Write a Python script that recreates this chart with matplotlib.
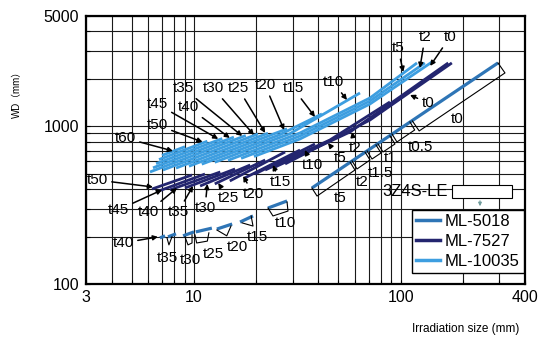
import matplotlib
matplotlib.use('Agg')
import matplotlib.pyplot as plt
from matplotlib.ticker import NullFormatter, LogLocator, FixedLocator
from matplotlib.patches import Rectangle, FancyArrowPatch
from matplotlib.lines import Line2D

plt.rcParams['font.family'] = ['Liberation Sans', 'DejaVu Sans', 'Noto Sans CJK JP']

# ---------------- data (irradiation size mm, WD mm) ----------------
series_names = ['ML-5018', 'ML-7527', 'ML-10035']
series_colors = ['#2E75B6', '#23256F', '#3D9EE0']

# ML-10035 (light blue)
ml10035_labels = ['t60', 't50', 't45', 't40', 't35', 't30', 't25', 't20', 't15', 't10', 't5', 't2', 't0']
ml10035_size = [[7.00, 9.04], [6.77, 11.6], [6.55, 13.7], [6.33, 15.6], [6.12, 17.8], [7.07, 20.4],
                [8.18, 22.8], [9.45, 28.2], [10.9, 26.1, 41.6], [12.6, 29.1, 63.6],
                [14.6, 32.6, 71.1, 120], [16.9, 32.6, 71.1, 131], [19.5, 32.6, 71.1, 142]]
ml10035_wd = [[654, 742], [615, 804], [579, 836], [545, 854], [513, 874], [528, 894],
              [543, 904], [558, 963], [575, 886, 1197], [591, 897, 1626],
              [608, 907, 1512, 2520], [626, 868, 1447, 2520], [643, 831, 1385, 2557]]
ml10035_tip_size = [7.91, 11.0, 13.1, 14.9, 17.1, 19.5, 22.1, 27.3, 38.5, 55.0, 103, 124, 139]
ml10035_tip_wd = [697, 795, 831, 843, 868, 881, 907, 947, 1146, 1468, 2210, 2343, 2412]

# ML-7527 (navy)
ml7527_labels = ['t50', 't45', 't40', 't35', 't30', 't25', 't20', 't15', 't10', 't5', 't2', 't0']
ml7527_size = [[6.26, 9.78], [6.55, 11.3], [7.65, 13.4], [9.04, 15.8], [10.7, 18.7], [12.6, 22.1],
               [14.9, 27.6], [17.6, 32.6], [19.7, 38.5], [22.1, 45.5, 88.8],
               [24.7, 56.9, 170], [27.6, 71.1, 177]]
ml7527_wd = [[400, 491], [383, 498], [395, 513], [406, 536], [418, 568], [431, 611],
             [450, 687], [470, 707], [498, 772], [528, 819, 1426],
             [552, 920, 2520], [577, 1096, 2520]]
ml7527_tip_size = [6.33, 7.00, 8.27, 9.89, 11.6, 13.1, 17.3, 24.1, 34.4, 44.5, 58.2, 111]
ml7527_tip_wd = [412, 395, 406, 418, 431, 437, 484, 568, 707, 784, 920, 1579]

# ML-5018 (medium blue)
ml5018_size = [[6.84, 7.24], [7.48, 8.18], [8.85, 10.0], [10.2, 12.2], [12.9, 15.3],
               [16.7, 19.3], [22.8, 28.2], [37.2, 296]]
ml5018_wd = [[196, 202], [199, 208], [202, 214], [214, 226], [223, 240], [247, 270],
             [303, 336], [406, 2520]]

# thickness brackets drawn under the ML-5018 segments
bracket_size = [[7.40, 7.56, 7.82], [9.04, 9.35, 9.78, 9.78], [10.1, 10.3, 11.6, 11.8],
                [12.9, 14.4, 15.1], [17.1, 19.3, 18.9], [22.8, 24.1, 28.5, 28.2],
                [296, 320, 123, 114], [111, 117, 96.0, 90.8], [88.8, 93.9, 82.2, 77.7],
                [76.0, 80.4, 72.7, 68.8], [67.2, 71.1, 61.5, 58.2], [56.9, 60.1, 39.4, 37.2]]
bracket_wd = [[196, 177, 199], [199, 177, 182, 205], [205, 182, 187, 211],
              [220, 202, 233], [244, 233, 270], [303, 270, 290, 331],
              [2520, 2178, 934, 1080], [1065, 947, 795, 894], [868, 772, 687, 772],
              [761, 677, 620, 697], [687, 611, 536, 603], [594, 528, 361, 406]]

ml5018_text = ['t40', 't35', 't30', 't25', 't20', 't15', 't10', 't5', 't2', 't1.5', 't1', 't0.5', 't0']
ml5018_tip_size = [6.69]
ml5018_tip_wd = [199]

# label layout (pixel positions of label text)
ml10035_text_px = [(125, 138), (157, 125), (157, 104), (188, 107), (183, 88), (213, 88), (238, 88),
                   (265, 85), (293, 88), (333, 82), (398, 48), (425, 37), (450, 37)]
ml7527_text_px = [(97, 180), (118, 210), (148, 212), (178, 212), (205, 208), (228, 198), (253, 194),
                  (280, 182), (312, 165), (340, 158), (355, 148), (428, 103)]
ml5018_text_px = [(123, 243), (167, 258), (190, 260), (213, 254), (237, 247), (257, 237), (285, 223),
                  (340, 198), (362, 182), (380, 173), (390, 158), (420, 147), (457, 119)]

# ---------------- figure ----------------
W, H = 545, 344
fig = plt.figure(figsize=(W / 100, H / 100), dpi=100)
ax = fig.add_axes([86 / W, 1 - 284 / H, 439 / W, 268 / H])
ax.set_xscale('log')
ax.set_yscale('log')
ax.set_xlim(3, 400)
ax.set_ylim(100, 5000)
ax.xaxis.set_major_locator(FixedLocator([3, 10, 100, 400]))
ax.set_xticklabels(['3', '10', '100', '400'])
ax.yaxis.set_major_locator(FixedLocator([100, 1000, 5000]))
ax.set_yticklabels(['100', '1000', '5000'])
ax.xaxis.set_minor_locator(LogLocator(base=10, subs=range(2, 10), numticks=30))
ax.yaxis.set_minor_locator(LogLocator(base=10, subs=range(2, 10), numticks=30))
ax.xaxis.set_minor_formatter(NullFormatter())
ax.yaxis.set_minor_formatter(NullFormatter())
ax.grid(which='both', color='#1a1a1a', lw=0.8)
ax.set_axisbelow(True)
for s in ax.spines.values():
    s.set_linewidth(1.6)
    s.set_color('black')
ax.tick_params(which='both', direction='in', length=3, width=0.8, labelsize=11.5)
ax.tick_params(axis='x', pad=4)
ax.tick_params(axis='y', pad=5)

lw = 2.0
for xs, ys in zip(ml10035_size, ml10035_wd):
    ax.plot(xs, ys, color=series_colors[2], lw=lw, solid_capstyle='butt', solid_joinstyle='round', zorder=3)
for xs, ys in zip(ml7527_size, ml7527_wd):
    ax.plot(xs, ys, color=series_colors[1], lw=lw, solid_capstyle='butt', solid_joinstyle='round', zorder=3)
for xs, ys in zip(ml5018_size, ml5018_wd):
    ax.plot(xs, ys, color=series_colors[0], lw=2.3, solid_capstyle='butt', zorder=3)
for xs, ys in zip(bracket_size, bracket_wd):
    ax.plot(xs, ys, color='black', lw=0.8, zorder=3)

arrow = dict(arrowstyle='-|>', color='black', lw=1.1, mutation_scale=7, shrinkA=1, shrinkB=0)
for lab, (px, py), tx, ty in zip(ml10035_labels, ml10035_text_px, ml10035_tip_size, ml10035_tip_wd):
    ax.annotate(lab, xy=(tx, ty), xycoords='data', xytext=(px, H - py), textcoords='figure pixels',
                ha='center', va='center', fontsize=11, arrowprops=arrow, zorder=4)
for lab, (px, py), tx, ty in zip(ml7527_labels, ml7527_text_px, ml7527_tip_size, ml7527_tip_wd):
    ax.annotate(lab, xy=(tx, ty), xycoords='data', xytext=(px, H - py), textcoords='figure pixels',
                ha='center', va='center', fontsize=11, arrowprops=arrow, zorder=4)
for i, (lab, (px, py)) in enumerate(zip(ml5018_text, ml5018_text_px)):
    if i < len(ml5018_tip_size):
        ax.annotate(lab, xy=(ml5018_tip_size[i], ml5018_tip_wd[i]), xycoords='data',
                    xytext=(px, H - py), textcoords='figure pixels',
                    ha='center', va='center', fontsize=11, arrowprops=arrow, zorder=4)
    else:
        fig.text(px / W, 1 - py / H, lab, ha='center', va='center', fontsize=11)

# legend
handles = [Line2D([], [], color=c, lw=2.5) for c in series_colors]
leg = fig.legend(handles, series_names, loc='upper left', bbox_to_anchor=(412 / W, 1 - 210 / H),
                 frameon=True, fancybox=False, edgecolor='black', framealpha=1,
                 borderpad=0.25, handlelength=1.4, handletextpad=0.3, labelspacing=0.3,
                 fontsize=12, borderaxespad=0)
leg.get_frame().set_linewidth(1.0)

fig.text(382 / W, 1 - 192 / H, '3Z4S-LE', ha='left', va='center', fontsize=12)
fig.add_artist(Rectangle((452 / W, 1 - 198 / H), 60 / W, 13 / H, transform=fig.transFigure,
                         facecolor='white', edgecolor='black', lw=0.8, zorder=5))
fig.add_artist(FancyArrowPatch((480 / W, 1 - 198 / H), (480 / W, 1 - 209 / H),
                               transform=fig.transFigure, arrowstyle='-|>',
                               mutation_scale=5, color='#6f9c9c', lw=0.8, zorder=5))

fig.text(17 / W, 1 - 92 / H, 'WD（mm）', rotation=90, ha='center', va='center', fontsize=7)
fig.text(466 / W, 1 - 329 / H, 'Irradiation size (mm)', ha='center', va='center', fontsize=8.5)

fig.savefig('out.png', dpi=100)
